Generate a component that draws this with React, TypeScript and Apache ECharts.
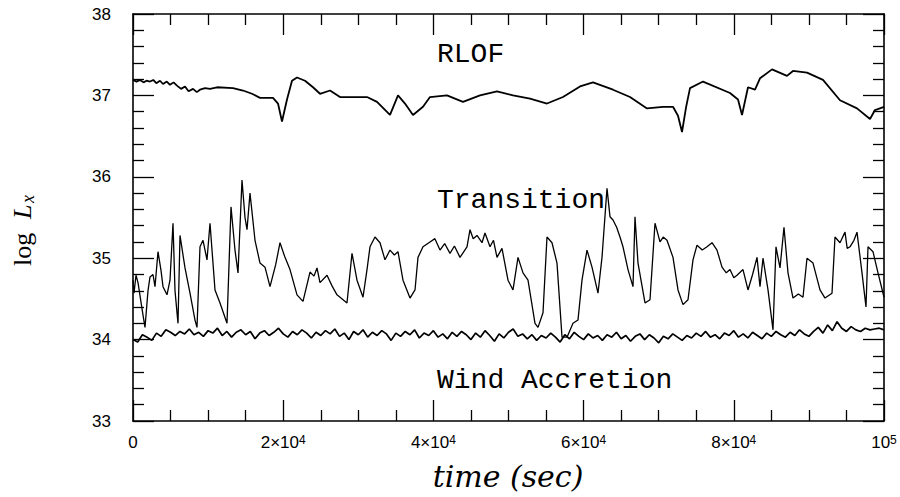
import React, { useEffect, useRef } from "react";
import * as echarts from "echarts";

// ---- data (time in seconds, log Lx) ----
const rlofTime = [0,466,932,1400,1800,2264,2700,3100,3595,4000,4500,4927,5400,5859,6400,6924,7400,7989,8500,8921,9600,10253,11185,13316,14647,15846,16911,18642,19308,19840,20506,21172,21838,22903,23968,24900,26232,27563,29561,31159,32490,34221,35286,36218,37284,38615,39547,41811,43941,46205,48469,50599,52863,55127,57257,59521,61252,63915,66178,68442,70573,71904,72570,73103,73635,74168,75899,79494,80559,81092,81891,82823,83489,85087,87084,87883,89747,91877,94141,96405,98136,98802,100000];
const rlofVal = [37.19,37.17,37.19,37.16,37.18,37.17,37.19,37.15,37.18,37.14,37.17,37.13,37.16,37.12,37.08,37.11,37.05,37.08,37.04,37.07,37.09,37.08,37.10,37.09,37.06,37.02,36.97,36.97,36.90,36.68,36.95,37.18,37.22,37.18,37.10,37.02,37.06,36.98,36.98,36.98,36.92,36.76,37.00,36.90,36.76,36.86,36.98,37.00,36.92,37.00,37.05,37.00,36.96,36.90,36.98,37.11,37.16,37.07,36.98,36.84,36.86,36.86,36.75,36.55,36.85,37.09,37.17,37.03,36.95,36.76,37.10,37.07,37.21,37.32,37.24,37.30,37.28,37.19,36.94,36.84,36.71,36.82,36.86];

const transition: [number, number][] = [
  [0,34.73],[133,34.57],[399,34.79],[666,34.70],[1332,34.30],[1598,34.15],[1997,34.60],[2264,34.77],[2663,34.80],[2929,34.65],
  [3329,35.08],[3728,34.85],[3995,34.65],[4527,34.55],[4927,34.73],[5326,35.43],[5593,34.60],[5992,34.20],[6259,35.28],[6924,34.88],
  [7590,34.57],[8256,34.24],[8522,34.15],[8921,35.14],[9321,35.22],[9854,34.98],[10253,35.43],[10919,34.61],[11585,34.45],[12517,34.20],
  [13050,35.63],[13582,35.10],[13982,34.82],[14514,35.96],[14913,35.50],[15180,35.35],[15579,35.80],[16245,35.22],[16911,34.94],[17577,34.89],
  [18243,34.65],[19000,34.92],[19574,35.19],[20200,35.02],[20906,34.86],[21838,34.55],[22636,34.47],[23569,34.83],[24101,34.78],[24501,34.88],
  [24900,34.70],[25832,34.79],[26500,34.66],[27164,34.55],[28495,34.45],[29161,35.06],[29827,34.73],[30626,34.52],[31159,34.86],[31558,35.14],
  [32224,35.26],[32889,35.19],[33555,34.98],[34221,35.10],[34800,35.04],[35286,35.08],[35952,34.73],[36884,34.51],[37550,34.61],[37949,35.01],
  [38615,35.14],[39547,35.20],[40200,35.24],[40879,35.10],[41500,35.18],[42210,35.06],[42800,35.15],[43542,35.01],[44474,35.14],[44874,35.35],
  [45300,35.24],[45806,35.28],[46471,35.19],[46871,35.31],[47537,35.14],[48000,35.22],[48469,35.01],[49134,35.12],[49933,34.73],[50599,34.61],
  [51265,35.01],[51931,34.82],[52597,34.73],[53529,34.20],[53928,34.15],[54594,34.33],[55127,35.26],[55792,35.19],[56458,34.94],[57124,34.03],
  [57790,34.03],[58589,34.20],[59254,34.24],[59787,34.73],[60453,35.10],[61119,34.89],[61917,34.57],[62450,35.01],[63116,35.86],[63515,35.51],
  [63915,35.47],[64400,35.38],[64847,35.26],[65246,35.14],[65912,34.86],[66578,34.65],[66844,35.51],[67244,34.94],[68176,34.45],[68842,34.49],
  [69507,35.43],[70173,35.20],[70600,35.26],[71105,35.22],[71904,35.01],[72570,34.61],[73236,34.43],[73901,34.49],[74567,34.98],[75100,35.16],
  [75800,35.10],[76431,35.14],[77100,35.19],[77763,35.10],[78429,34.89],[79000,34.82],[79494,34.86],[80000,34.76],[80426,34.79],[81225,34.86],
  [81891,34.61],[82500,34.80],[83089,35.01],[83489,34.65],[83888,35.00],[84554,34.61],[85220,34.12],[85619,35.14],[86152,34.88],[86684,35.38],
  [87217,34.82],[87883,34.51],[88600,34.56],[89214,34.52],[89747,35.00],[90546,34.94],[91478,34.61],[92144,34.51],[93076,34.57],[93475,35.26],
  [94141,35.19],[94807,35.32],[95100,35.12],[95473,35.14],[96000,35.22],[96405,35.32],[97071,34.82],[97603,34.40],[97870,35.14],[98535,35.08],
  [99201,34.82],[100000,34.52]
];

const windStep = 625; // sampling interval of the wind-accretion curve (s)
const windVal = [
  34.00,33.97,34.06,34.03,33.99,34.08,34.04,34.12,34.09,34.05,
  34.10,34.07,34.13,34.06,34.09,34.04,34.11,34.08,34.14,34.05,
  34.10,34.03,34.09,34.12,34.06,34.10,34.01,34.08,34.11,34.05,
  34.09,34.14,34.07,34.03,34.10,34.06,34.12,34.08,34.02,34.09,
  34.05,34.11,34.07,34.13,34.04,34.08,34.00,34.10,34.06,34.12,
  34.03,34.09,34.05,34.11,34.07,33.99,34.08,34.04,34.10,34.06,
  34.12,34.02,34.08,34.05,34.11,34.03,34.07,34.01,34.09,34.04,
  34.10,34.06,34.00,34.08,34.03,34.11,34.05,33.98,34.07,34.02,
  34.09,34.13,34.04,34.07,34.01,34.06,33.99,34.05,34.02,34.08,
  34.03,33.97,34.06,34.01,34.09,34.04,34.00,34.07,34.02,34.05,
  33.99,34.06,34.03,34.09,34.01,34.05,33.98,34.04,34.07,34.00,
  34.06,34.02,33.96,34.04,34.01,34.07,34.03,33.99,34.05,34.02,
  34.08,34.04,34.10,34.03,34.06,34.01,34.08,34.05,34.11,34.03,
  34.07,34.02,34.09,34.05,34.01,34.08,34.04,34.10,34.06,34.03,
  34.09,34.05,34.12,34.07,34.04,34.10,34.15,34.08,34.18,34.11,
  34.22,34.14,34.10,34.16,34.12,34.10,34.14,34.12,34.13,34.14,34.12
];

const xTicks = { min: 0, max: 100000, interval: 20000 };
const yTicks = { min: 33, max: 38, interval: 1 };
const labels = ["RLOF", "Transition", "Wind Accretion"];

function xLabel(v: number): string {
  if (v === 0) return "0";
  if (v === 100000) return "10{sup|5}";
  return `${v / 10000}×10{sup|4}`;
}

export default function App() {
  const ref = useRef<HTMLDivElement>(null);
  useEffect(() => {
    const chart = echarts.init(ref.current!, null, { renderer: "svg" });
    const mkLine = () => ({ show: true, onZero: false, lineStyle: { color: "#000", width: 1.6 } });
    const mkTick = () => ({ show: true, inside: true, length: 21, lineStyle: { color: "#000", width: 1.3 } });
    const mkMinor = (n: number) => ({ show: true, splitNumber: n, length: 11, lineStyle: { color: "#000", width: 1.3 } });
    const labelFont = { color: "#000", fontFamily: "Liberation Sans", fontSize: 17 };

    const option: any = {
      animation: false,
      grid: { left: 133, right: 16, top: 14, bottom: 76, containLabel: false },
      xAxis: [
        {
          type: "value", position: "bottom", ...xTicks,
          axisLine: mkLine(), axisTick: mkTick(), minorTick: mkMinor(4),
          splitLine: { show: false }, minorSplitLine: { show: false },
          axisLabel: {
            ...labelFont, margin: 13, formatter: xLabel,
            rich: { sup: { ...labelFont, fontSize: 12, lineHeight: 6, verticalAlign: "top" } },
          },
        },
        {
          type: "value", position: "top", ...xTicks,
          axisLine: mkLine(), axisTick: mkTick(), minorTick: mkMinor(4),
          splitLine: { show: false }, minorSplitLine: { show: false }, axisLabel: { show: false },
        },
      ],
      yAxis: [
        {
          type: "value", position: "left", ...yTicks,
          axisLine: mkLine(), axisTick: mkTick(), minorTick: mkMinor(5),
          splitLine: { show: false }, minorSplitLine: { show: false },
          axisLabel: { ...labelFont, margin: 22 },
        },
        {
          type: "value", position: "right", ...yTicks,
          axisLine: mkLine(), axisTick: mkTick(), minorTick: mkMinor(5),
          splitLine: { show: false }, minorSplitLine: { show: false }, axisLabel: { show: false },
        },
      ],
      series: [
        {
          name: labels[0], type: "line", xAxisIndex: 0, yAxisIndex: 0,
          data: rlofTime.map((t, i) => [t, rlofVal[i]]),
          showSymbol: false, symbol: "none", lineStyle: { color: "#000", width: 1.8 },
        },
        {
          name: labels[1], type: "line", xAxisIndex: 0, yAxisIndex: 0,
          data: transition,
          showSymbol: false, symbol: "none", lineStyle: { color: "#000", width: 1.3 },
        },
        {
          name: labels[2], type: "line", xAxisIndex: 0, yAxisIndex: 0,
          data: windVal.map((v, i) => [i * windStep, v]),
          showSymbol: false, symbol: "none", lineStyle: { color: "#000", width: 1.7 },
        },
      ],
      graphic: [
        { type: "text", left: 437, top: 40, style: { text: labels[0], font: "28px 'Liberation Mono'", fill: "#000" } },
        { type: "text", left: 437, top: 186, style: { text: labels[1], font: "28px 'Liberation Mono'", fill: "#000" } },
        { type: "text", left: 437, top: 366, style: { text: labels[2], font: "28px 'Liberation Mono'", fill: "#000" } },
        {
          type: "text", x: 508, y: 476,
          style: { text: "time (sec)", font: "italic 30px 'DejaVu Serif'", fill: "#000", align: "center", verticalAlign: "middle" },
        },
        {
          type: "group", x: 22, y: 222, rotation: Math.PI / 2,
          children: [
            { type: "text", x: -44, y: 0, style: { text: "log", font: "26px 'Liberation Serif'", fill: "#000", align: "left", verticalAlign: "middle" } },
            { type: "text", x: 3, y: 0, style: { text: "L", font: "italic 26px 'Liberation Serif'", fill: "#000", align: "left", verticalAlign: "middle" } },
            { type: "text", x: 19, y: 6, style: { text: "x", font: "italic 18px 'Liberation Serif'", fill: "#000", align: "left", verticalAlign: "middle" } },
          ],
        },
      ],
    };
    chart.setOption(option);
    return () => chart.dispose();
  }, []);
  return <div ref={ref} style={{ position: "absolute", left: 0, top: 0, width: 900, height: 497 }} />;
}
